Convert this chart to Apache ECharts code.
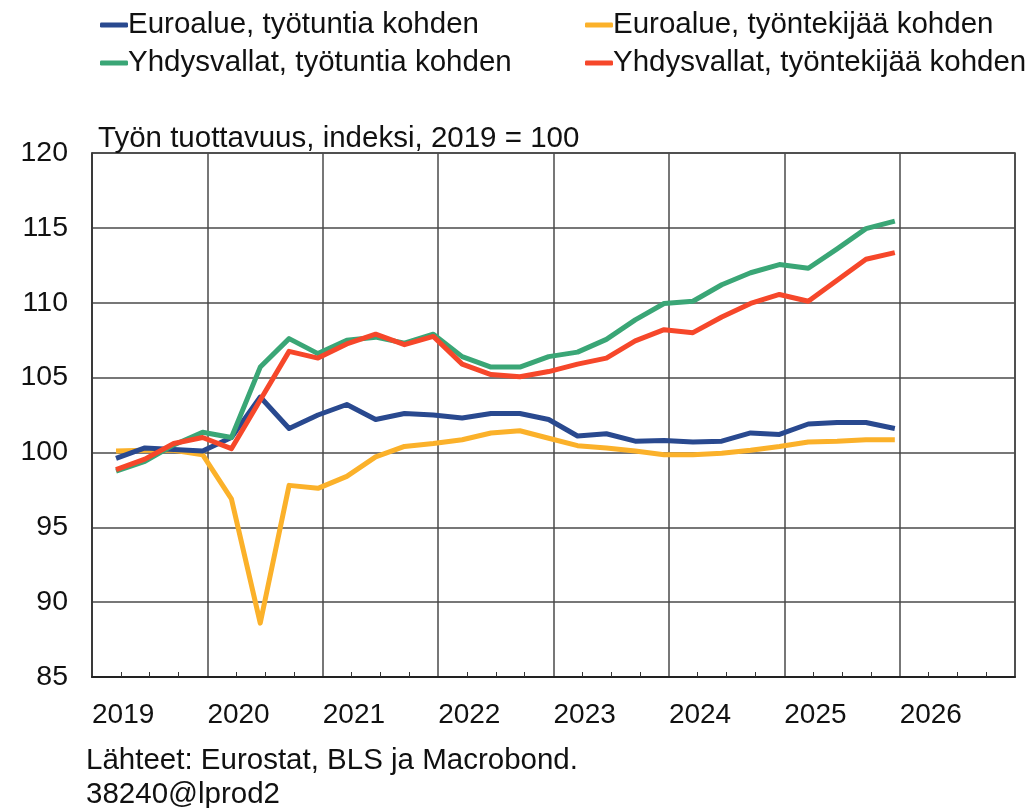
<!DOCTYPE html>
<html>
<head>
<meta charset="utf-8">
<script src="https://cdn.jsdelivr.net/npm/echarts@6/dist/echarts.min.js"></script>
<style>
  html, body { margin: 0; padding: 0; background: #fff; }
  #chart { width: 1033px; height: 808px; }
</style>
</head>
<body>
<div id="chart"></div>
<script>
// quarters 2019Q1 - 2025Q4
var quarters = ['2019Q1','2019Q2','2019Q3','2019Q4','2020Q1','2020Q2','2020Q3','2020Q4',
  '2021Q1','2021Q2','2021Q3','2021Q4','2022Q1','2022Q2','2022Q3','2022Q4',
  '2023Q1','2023Q2','2023Q3','2023Q4','2024Q1','2024Q2','2024Q3','2024Q4',
  '2025Q1','2025Q2','2025Q3','2025Q4'];

var euroHours = [99.6, 100.3, 100.2, 100.1, 101.0, 103.7, 101.6, 102.5,
  103.2, 102.2, 102.6, 102.5, 102.3, 102.6, 102.6, 102.2,
  101.1, 101.25, 100.75, 100.8, 100.7, 100.75, 101.3, 101.2,
  101.9, 102.0, 102.0, 101.6];
var euroWorkers = [100.1, 100.15, 100.15, 99.85, 96.9, 88.6, 97.8, 97.6,
  98.4, 99.7, 100.4, 100.6, 100.85, 101.3, 101.45, 100.95,
  100.45, 100.3, 100.1, 99.85, 99.85, 99.95, 100.15, 100.4,
  100.7, 100.75, 100.85, 100.85];
var usHours = [98.75, 99.4, 100.5, 101.35, 101.0, 105.7, 107.6, 106.6,
  107.5, 107.7, 107.3, 107.9, 106.4, 105.7, 105.7, 106.4,
  106.7, 107.55, 108.85, 109.95, 110.1, 111.2, 112.0, 112.55,
  112.3, 113.6, 114.95, 115.45];
var usWorkers = [98.85, 99.55, 100.6, 101.0, 100.25, 103.5, 106.75, 106.3,
  107.25, 107.9, 107.2, 107.75, 105.9, 105.2, 105.05, 105.4,
  105.9, 106.3, 107.45, 108.2, 108.0, 109.05, 109.95, 110.55,
  110.1, 111.5, 112.9, 113.35];

var seriesNames = ['Euroalue, työtuntia kohden', 'Euroalue, työntekijää kohden',
  'Yhdysvallat, työtuntia kohden', 'Yhdysvallat, työntekijää kohden'];
var colors = ['#29498f', '#fbb12a', '#3aa676', '#f6472a'];
var yearTicks = [2019, 2020, 2021, 2022, 2023, 2024, 2025, 2026];

// plot each quarter at the middle of its last month
function qx(q) {
  var y = parseInt(q.slice(0, 4), 10);
  var n = parseInt(q.slice(5), 10);
  return y + (3 * n - 0.5) / 12;
}
function pairs(vals) {
  return vals.map(function (v, i) { return [qx(quarters[i]), v]; });
}

var font = "'Liberation Sans', Arial, sans-serif";
var chart = echarts.init(document.getElementById('chart'), null, { renderer: 'canvas' });

var option = {
  animation: false,
  color: colors,
  textStyle: { fontFamily: font },
  title: [
    {
      text: 'Työn tuottavuus, indeksi, 2019 = 100',
      left: 93, top: 119,
      textStyle: { fontSize: 29.5, fontWeight: 'normal', color: '#111', fontFamily: font }
    },
    {
      text: 'Lähteet: Eurostat, BLS ja Macrobond.\n38240@lprod2',
      left: 81, top: 739,
      textStyle: { fontSize: 29.5, fontWeight: 'normal', color: '#111', lineHeight: 34, fontFamily: font }
    }
  ],
  legend: [
    {
      orient: 'vertical', left: 95, top: 5, itemGap: 8,
      itemWidth: 28, itemHeight: 5, icon: 'roundRect',
      data: [seriesNames[0], seriesNames[2]],
      textStyle: { fontSize: 29.5, color: '#111', fontFamily: font, padding: [0, 0, 0, -5] }
    },
    {
      orient: 'vertical', left: 580, top: 5, itemGap: 8,
      itemWidth: 28, itemHeight: 5, icon: 'roundRect',
      data: [seriesNames[1], seriesNames[3]],
      textStyle: { fontSize: 29.5, color: '#111', fontFamily: font, padding: [0, 0, 0, -5] }
    }
  ],
  grid: {
    left: 92, right: 18, top: 153, bottom: 131,
    show: true, borderColor: '#333', borderWidth: 1.5
  },
  xAxis: {
    type: 'value', min: 2019, max: 2027, interval: 1,
    axisLine: { show: true, lineStyle: { color: '#222', width: 2 } },
    axisTick: { show: false },
    minorTick: { show: true, splitNumber: 4, length: -5, lineStyle: { color: '#333', width: 1 } },
    splitLine: { show: true, lineStyle: { color: '#4a4a4a', width: 1.5 } },
    axisLabel: {
      fontSize: 28, color: '#111', margin: 24, align: 'left', fontFamily: font,
      formatter: function (v) { return yearTicks.indexOf(v) >= 0 ? String(v) : ''; }
    }
  },
  yAxis: {
    type: 'value', min: 85, max: 120, interval: 5,
    axisLine: { show: true, lineStyle: { color: '#333', width: 1.5 } },
    axisTick: { show: false },
    splitLine: { show: true, lineStyle: { color: '#4a4a4a', width: 1.5 } },
    axisLabel: { fontSize: 28.5, color: '#111', margin: 24, fontFamily: font }
  },
  series: [
    { name: seriesNames[0], type: 'line', data: pairs(euroHours) },
    { name: seriesNames[1], type: 'line', data: pairs(euroWorkers) },
    { name: seriesNames[2], type: 'line', data: pairs(usHours) },
    { name: seriesNames[3], type: 'line', data: pairs(usWorkers) }
  ].map(function (s) {
    s.showSymbol = false;
    s.symbol = 'none';
    s.lineStyle = { width: 5, join: 'round' };
    return s;
  })
};
option.series[0].z = 3;
option.series[1].z = 2;

chart.setOption(option);
</script>
</body>
</html>
